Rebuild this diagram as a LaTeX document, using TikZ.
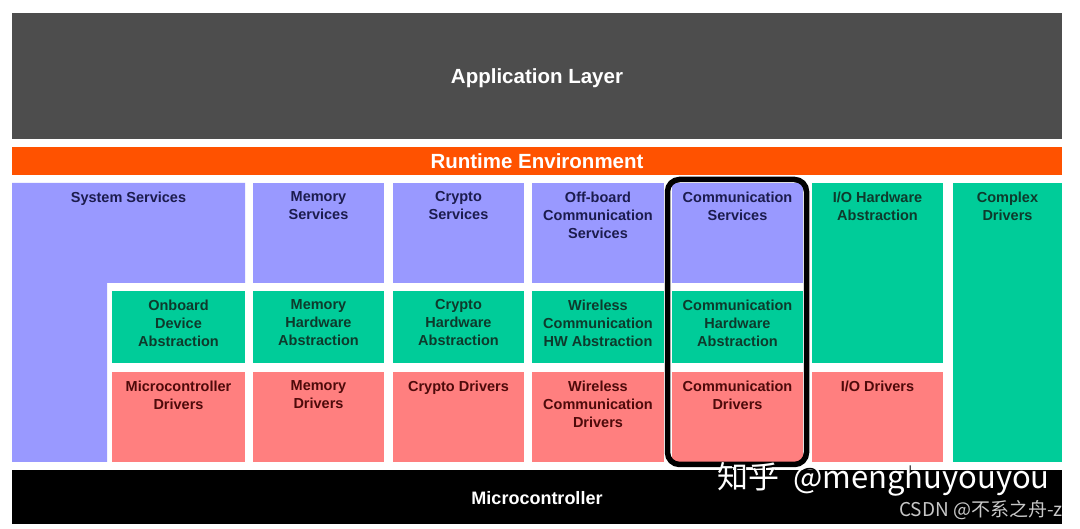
\documentclass[tikz,border=0pt]{standalone}
\usepackage{fontspec}
\setmainfont{Liberation Sans}
\newfontfamily\cjkfont{Noto Sans CJK SC}
\definecolor{appgray}{HTML}{4D4D4D}
\definecolor{rteorange}{HTML}{FF5200}
\definecolor{lav}{HTML}{9999FF}
\definecolor{grn}{HTML}{00CC99}
\definecolor{pnk}{HTML}{FF7F7F}
\definecolor{navytxt}{HTML}{1C1C4E}
\definecolor{grntxt}{HTML}{0E3A2C}
\definecolor{redtxt}{HTML}{4E0A0A}
\definecolor{wmgray}{HTML}{C8C8C8}
\tikzset{
  blk/.style={inner sep=0pt, outer sep=0pt, draw=none},
  lbl/.style={inner sep=0pt, outer sep=0pt, align=center, font=\bfseries\fontsize{14.5}{18}\selectfont},
  bigtxt/.style={inner sep=0pt, text=white, font=\bfseries\fontsize{20.5}{24}\selectfont},
  hl/.style={draw=black, line width=5.5pt, rounded corners=12pt, inner sep=0pt, outer sep=0pt},
  wmark/.style={inner sep=0pt, anchor=base west, font=\cjkfont\fontsize{31}{31}\selectfont},
}
% #1 name, #2 fill, #3 text colour, #4 x1, #5 y1, #6 x2, #7 y2, #8 text
\newcommand\blk[8]{%
  \node[blk, fill=#2, minimum width={#6-#4}, minimum height={#7-#5}, anchor=north west] (#1) at (#4,#5) {};
  \node[lbl, text=#3, anchor=north] (#1-t) at ([yshift=-8.6pt]#1.north) {#8};}
\begin{document}
\begin{tikzpicture}[x=1pt,y=-1pt]
\useasboundingbox[fill=white] (0,0) rectangle (1080,529);
% top layers
\node[blk, fill=appgray, minimum width=1050, minimum height=126, anchor=north west] (app) at (12,13) {};
\node[bigtxt, anchor=base] (app-t) at (537,83.3) {Application Layer};
\node[blk, fill=rteorange, minimum width=1050, minimum height=28, anchor=north west] (rte) at (12,147) {};
\node[bigtxt, anchor=base] (rte-t) at (537,169) {Runtime Environment};
% system services (L shape)
\fill[lav] (12,183) -- (245,183) -- (245,283) -- (107,283) -- (107,462) -- (12,462) -- cycle;
\coordinate (sys) at (128.5,183);
\node[lbl, text=navytxt, anchor=north] (sys-t) at ([yshift=-8.6pt]sys) {System Services};
% services row
\blk{memsvc}{lav}{navytxt}{253}{183}{384}{283}{Memory\\Services}
\blk{crysvc}{lav}{navytxt}{393}{183}{524}{283}{Crypto\\Services}
\blk{offsvc}{lav}{navytxt}{532}{183}{664}{283}{Off-board\\Communication\\Services}
\blk{comsvc}{lav}{navytxt}{672}{183}{803}{283}{Communication\\Services}
\blk{iohw}{grn}{grntxt}{812}{183}{943}{363}{I/O Hardware\\Abstraction}
\blk{cdd}{grn}{grntxt}{953}{183}{1062}{462}{Complex\\Drivers}
% ECU abstraction row
\blk{obhw}{grn}{grntxt}{112}{291}{245}{363}{Onboard\\Device\\Abstraction}
\blk{memhw}{grn}{grntxt}{253}{291}{384}{363}{Memory\\Hardware\\Abstraction}
\blk{cryhw}{grn}{grntxt}{393}{291}{524}{363}{Crypto\\Hardware\\Abstraction}
\blk{wlhw}{grn}{grntxt}{532}{291}{664}{363}{Wireless\\Communication\\HW Abstraction}
\blk{comhw}{grn}{grntxt}{672}{291}{803}{363}{Communication\\Hardware\\Abstraction}
% driver row
\blk{mcal}{pnk}{redtxt}{112}{372}{245}{462}{Microcontroller\\Drivers}
\blk{memdrv}{pnk}{redtxt}{253}{372}{384}{462}{Memory\\Drivers}
\blk{crydrv}{pnk}{redtxt}{393}{372}{524}{462}{Crypto Drivers}
\blk{wldrv}{pnk}{redtxt}{532}{372}{664}{462}{Wireless\\Communication\\Drivers}
\blk{comdrv}{pnk}{redtxt}{672}{372}{803}{462}{Communication\\Drivers}
\blk{iodrv}{pnk}{redtxt}{812}{372}{943}{462}{I/O Drivers}
% microcontroller
\node[blk, fill=black, minimum width=1050, minimum height=54, anchor=north west] (mcu) at (12,470) {};
\node[bigtxt, anchor=base, font=\bfseries\fontsize{18}{22}\selectfont] (mcu-t) at (537,504) {Microcontroller};
% highlight frame
\node[hl, minimum width=139, minimum height=285, anchor=north west] (focus) at (667.5,179.5) {};
% watermarks
\node[wmark, text=black] (wm-s) at (718.2,490.2) {知乎\hspace{14pt}@menghuyouyou};
\node[wmark, text=white] (wm) at (717,489) {知乎\hspace{14pt}@menghuyouyou};
\node[inner sep=0pt, anchor=base east, text=wmgray, font=\cjkfont\fontsize{19}{19}\selectfont] (csdn) at (1063,516) {CSDN @不系之舟-z};
\end{tikzpicture}
\end{document}
